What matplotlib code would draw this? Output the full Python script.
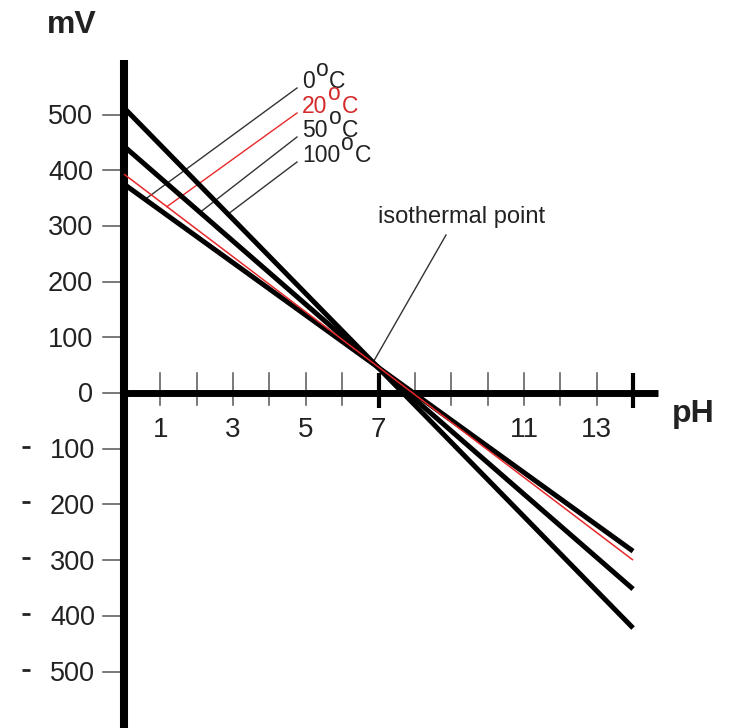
import matplotlib.pyplot as plt
import numpy as np

plt.rcParams['font.family'] = ['Liberation Sans', 'DejaVu Sans']

# electrode lines: mV at pH 0 and pH 14
temps = ['0', '20', '50', '100']
mv_ph0 = [375, 393, 443, 512]
mv_ph14 = [-284, -300, -352, -422]
line_colors = ['black', '#e8282a', 'black', 'black']
ph_range = [0, 14]

x_ticks = list(range(1, 14))
x_labels = [1, 3, 5, 7, 11, 13]
y_pos_labels = [500, 400, 300, 200, 100, 0]
y_neg_labels = [-100, -200, -300, -400, -500]

# pixel scale of the reference (px per pH unit, px per mV)
PX_PH = 36.36
PX_MV = 0.557

fig = plt.figure(figsize=(7.31, 7.28), dpi=100)
ax = fig.add_axes([0, 0, 1, 1])
ax.set_xlim(-124 / PX_PH, (731 - 124) / PX_PH)
ax.set_ylim(-(728 - 393) / PX_MV, 393 / PX_MV)
ax.axis('off')
renderer = fig.canvas.get_renderer()

def px(dx):
    return dx / PX_PH

def mv(dy):
    return dy / PX_MV

def right_edge(txt):
    bb = txt.get_window_extent(renderer)
    return ax.transData.inverted().transform((bb.x1, bb.y0))[0]

# axes lines
ax.plot([0, 0], [ax.get_ylim()[0], mv(393 - 60)], color='black', lw=5.8,
        solid_capstyle='butt', zorder=5)
ax.plot([0, px(658 - 124)], [0, 0], color='black', lw=5.0,
        solid_capstyle='butt', zorder=5)

# x ticks
for t in x_ticks:
    if t == 7:
        continue
    ax.plot([t, t], [mv(20), mv(-12)], color='#555555', lw=1.1, zorder=4)
for t in [7, 14]:
    ax.plot([t, t], [mv(20), mv(-15)], color='black', lw=3.0,
            solid_capstyle='butt', zorder=5)
for t in x_labels:
    ax.text(t, mv(-44), str(t), ha='center', va='baseline', fontsize=20,
            color='#222222')

# y ticks
for v in y_pos_labels + y_neg_labels:
    ax.plot([px(-21), 0], [v, v], color='#555555', lw=1.1, zorder=4)
for v in y_pos_labels:
    ax.text(px(-31), v - mv(9.5), str(v), ha='right', va='baseline',
            fontsize=19.5, color='#222222')
for v in y_neg_labels:
    ax.text(px(-29), v - mv(9.5), str(-v), ha='right', va='baseline',
            fontsize=19.5, color='#222222')
    ax.plot([px(-102), px(-94)], [v + mv(2), v + mv(2)], color='#222222',
            lw=2.0, solid_capstyle='butt')

ax.text(px(47 - 124), mv(393 - 33), 'mV', ha='left', va='baseline',
        fontsize=23, fontweight='bold', color='#222222')
ax.text(px(672 - 124), mv(393 - 422), 'pH', ha='left', va='baseline',
        fontsize=23, fontweight='bold', color='#222222')

# electrode response lines
order = [0, 2, 3, 1]
for i in order:
    red = line_colors[i] != 'black'
    ax.plot(ph_range, [mv_ph0[i], mv_ph14[i]], color=line_colors[i],
            lw=1.1 if red else 3.6, solid_capstyle='butt', zorder=6)

# temperature labels with leader lines
leader_ph = [0.58, 1.18, 2.09, 2.86]
label_base_y = [88, 113, 137, 162]
for i, t in enumerate(temps):
    slope = (mv_ph14[i] - mv_ph0[i]) / 14.0
    end = (leader_ph[i], mv_ph0[i] + slope * leader_ph[i])
    start = (px(297 - 124), mv(393 - label_base_y[i]))
    ax.plot([start[0], end[0]], [start[1], end[1]],
            color='#e8282a' if line_colors[i] != 'black' else '#333333',
            lw=1.0, zorder=3)
    col = '#d42a2a' if line_colors[i] != 'black' else '#222222'
    num = ax.text(px(302 - 124), start[1], t, ha='left', va='baseline',
                  fontsize=16.5, color=col)
    deg = ax.text(right_edge(num) + px(1.0), start[1] + mv(12.5), 'o',
                  ha='left', va='baseline', fontsize=16.5, color=col)
    ax.text(right_edge(deg) + px(0.5), start[1], 'C', ha='left',
            va='baseline', fontsize=16.5, color=col)

# isothermal point
iso = (6.85, 55)
ax.plot([px(446 - 124), iso[0]], [mv(393 - 235), iso[1]], color='#333333',
        lw=1.0, zorder=3)
ax.text(px(378 - 124), mv(393 - 223), 'isothermal point', ha='left',
        va='baseline', fontsize=17, color='#222222')

fig.savefig('out.png', dpi=100)
